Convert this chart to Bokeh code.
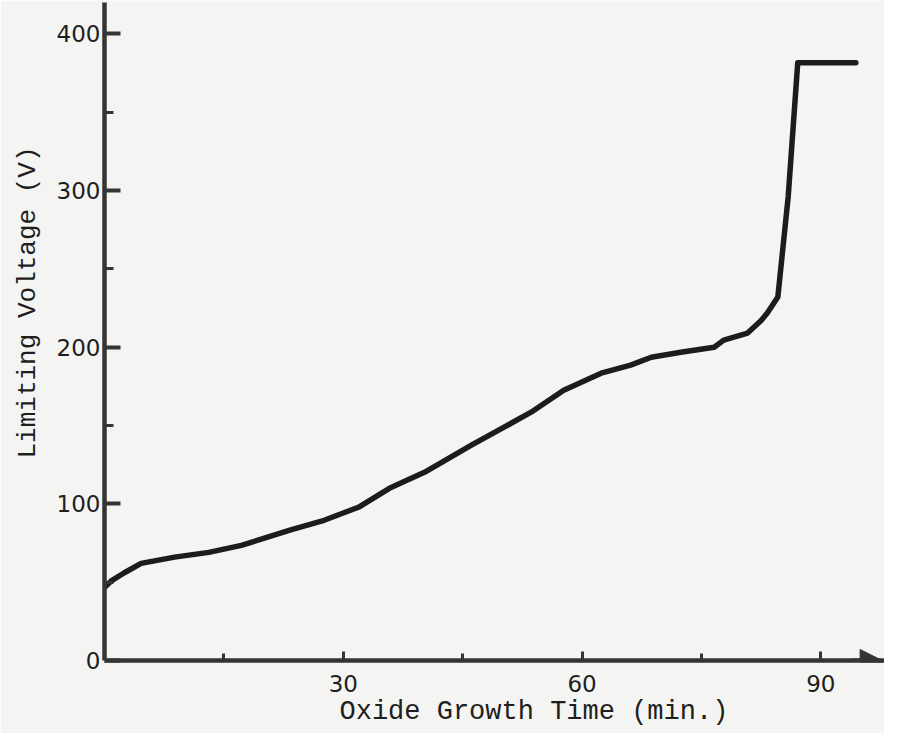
from bokeh.plotting import figure
from bokeh.models import FixedTicker, Range1d, Arrow, NormalHead, Title
from bokeh.embed import file_html
from bokeh.resources import INLINE

# Oxide growth time (min.) and limiting voltage (V)
time_min = [0.0, 0.9, 2.5, 4.6, 8.8, 13.1, 17.2, 23.5, 27.6, 31.9, 36.0, 40.2,
            46.1, 53.6, 57.7, 62.4, 66.1, 68.7, 72.4, 76.6, 77.8, 80.8, 82.5,
            83.3, 84.6, 85.9, 87.1, 94.4]
voltage = [46.6, 51, 56, 62, 66, 69, 73.5, 83.5, 89.5, 97.8, 110.5, 120.1,
           137.4, 158.5, 172.5, 183.4, 188.5, 193.6, 196.8, 200, 204.5, 209,
           217, 222, 232, 296, 381.5, 381.5]

x_ticks = [30, 60, 90]
x_minor = [15, 45, 75]
y_ticks = [0, 100, 200, 300, 400]
y_minor = [50, 150, 250, 350]

x_title = "Oxide Growth Time (min.)"
y_title = "Limiting Voltage (V)"

paper = "#f4f4f2"
ink = "#1c1c1c"
axis_ink = "#343434"
text_ink = "#1e1e1e"

p = figure(width=884, height=733, output_backend="svg", toolbar_location=None,
           x_range=Range1d(0, 98.0), y_range=Range1d(0, 420),
           min_border_left=103, min_border_right=0, min_border_top=2,
           min_border_bottom=73)
p.background_fill_color = paper
p.border_fill_color = paper
p.outline_line_color = None
p.xgrid.visible = False
p.ygrid.visible = False

p.line(time_min, voltage, line_width=5.5, line_color=ink, line_join="round",
       line_cap="round")

# x axis
xa = p.xaxis[0]
xa.ticker = FixedTicker(ticks=x_ticks, minor_ticks=x_minor)
xa.axis_line_width = 4.5
xa.axis_line_color = axis_ink
xa.major_tick_in = 9
xa.major_tick_out = 0
xa.minor_tick_in = 7
xa.minor_tick_out = 0
xa.major_tick_line_width = 3
xa.minor_tick_line_width = 3
xa.major_tick_line_color = axis_ink
xa.minor_tick_line_color = axis_ink
xa.major_label_text_font = "DejaVu Sans"
xa.major_label_text_font_size = "23px"
xa.major_label_text_color = text_ink
xa.major_label_standoff = 14

# y axis
ya = p.yaxis[0]
ya.ticker = FixedTicker(ticks=y_ticks, minor_ticks=y_minor)
ya.axis_line_width = 4.5
ya.axis_line_color = axis_ink
ya.major_tick_in = 16
ya.major_tick_out = 0
ya.minor_tick_in = 9
ya.minor_tick_out = 0
ya.major_tick_line_width = 4
ya.minor_tick_line_width = 3
ya.major_tick_line_color = axis_ink
ya.minor_tick_line_color = axis_ink
ya.major_label_text_font = "DejaVu Sans"
ya.major_label_text_font_size = "23px"
ya.major_label_text_color = text_ink
ya.major_label_standoff = 4

# axis titles in a typewriter font
p.add_layout(Title(text=x_title, align="left", offset=235, standoff=0,
                   text_font="Liberation Mono", text_font_size="27px",
                   text_font_style="normal", text_color=text_ink), "below")
p.add_layout(Title(text=y_title, align="left", offset=202, standoff=21,
                   text_font="Liberation Mono", text_font_size="26px",
                   text_font_style="normal", text_color=text_ink), "left")

# arrow head on the time axis
p.add_layout(Arrow(end=NormalHead(size=22, fill_color=axis_ink, line_color=axis_ink),
                   x_start=94, y_start=0, x_end=97.7, y_end=0,
                   line_width=4, line_color=axis_ink))

open("out.html", "w").write(file_html(p, INLINE))
